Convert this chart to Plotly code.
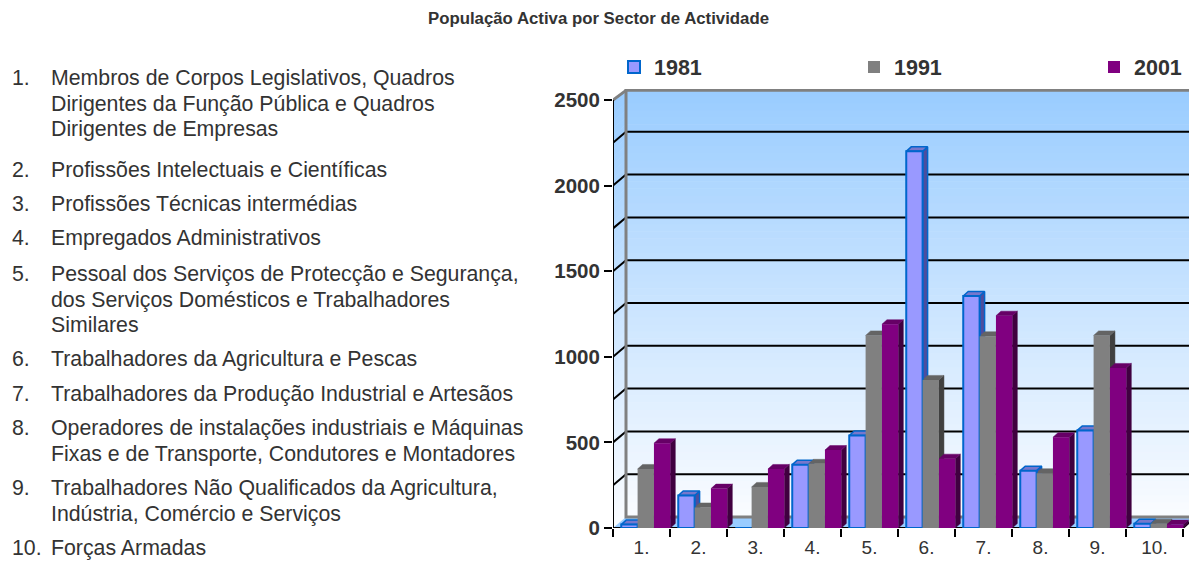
import plotly.graph_objects as go

# ---------------- data ----------------
categories = ["1.", "2.", "3.", "4.", "5.", "6.", "7.", "8.", "9.", "10."]
years = ["1981", "1991", "2001"]
values_1981 = [20, 190, 0, 370, 540, 2200, 1355, 335, 570, 25]
values_1991 = [345, 120, 240, 375, 1125, 865, 1120, 320, 1125, 25]
values_2001 = [495, 230, 345, 455, 1190, 405, 1240, 530, 935, 20]
y_tick_values = [0, 500, 1000, 1500, 2000, 2500]
title_text = "População Activa por Sector de Actividade"
list_numbers = ["1.", "2.", "3.", "4.", "5.", "6.", "7.", "8.", "9.", "10."]
list_texts = [
    ["Membros de Corpos Legislativos, Quadros",
     "Dirigentes da Função Pública e Quadros",
     "Dirigentes de Empresas"],
    ["Profissões Intelectuais e Científicas"],
    ["Profissões Técnicas intermédias"],
    ["Empregados Administrativos"],
    ["Pessoal dos Serviços de Protecção e Segurança,",
     "dos Serviços Domésticos e Trabalhadores",
     "Similares"],
    ["Trabalhadores da Agricultura e Pescas"],
    ["Trabalhadores da Produção Industrial e Artesãos"],
    ["Operadores de instalações industriais e Máquinas",
     "Fixas e de Transporte, Condutores e Montadores"],
    ["Trabalhadores Não Qualificados da Agricultura,",
     "Indústria, Comércio e Serviços"],
    ["Forças Armadas"],
]

# ---------------- layout geometry / style ----------------
W, H = 1197, 566
OFF = 8            # the page body adds an 8px margin; positions below are screen px
FONT = "Liberation Sans, Arial, sans-serif"
TXT = "#333333"


def fx(px):
    return (px - OFF) / W


def fy(py):
    return 1 - (py - OFF) / H


n = len(categories)
PX_X = 57.0                      # px per category
X0_PX = 613.0                    # front-left corner of the plot (screen px)
Y0_PX = 528.0                    # y = 0 on the front (screen px)
PX_Y = (528.0 - 100.0) / 2500.0  # px per value unit
WALL_DX = 13.0 / PX_X            # depth of the back wall (x units)
WALL_DY = 11.0 / PX_Y            # depth of the back wall (y units)
YMAX = 2500
xr = [0.5, n + 0.5 + WALL_DX]
yr = [0, YMAX + WALL_DY]
x_dom = [fx(X0_PX), fx(X0_PX + (xr[1] - xr[0]) * PX_X)]
y_dom = [fy(Y0_PX), fy(Y0_PX - yr[1] * PX_Y)]

BAR_W = 0.287
SHIFT = 0.075
BAR_DX = 5.0 / PX_X
BAR_DY = 4.5 / PX_Y
offsets = [SHIFT - 1.5 * BAR_W + k * BAR_W for k in range(3)]

series = [values_1981, values_1991, values_2001]
front_col = ["#9999FF", "#808080", "#800080"]
top_col = ["#7777CC", "#646464", "#660066"]
side_col = ["#4D4D9E", "#404040", "#400040"]
edge_col = ["#0066CC", None, None]
legend_ids = ["legend", "legend2", "legend3"]
legend_left_px = [614, 854, 1094]

fig = go.Figure()

# ---- walls (gradient bands), floor, grid ----
shapes = []
NB = 60
top_rgb = (153, 204, 255)
bot_rgb = (250, 252, 255)
for b in range(NB):
    a = YMAX * b / NB
    c = YMAX * (b + 1) / NB + (3 if b < NB - 1 else 0)
    t = (b + 0.5) / NB
    rgb = tuple(round(bot_rgb[j] + (top_rgb[j] - bot_rgb[j]) * t) for j in range(3))
    path = (f"M {xr[0]},{a} L {xr[0]+WALL_DX},{a+WALL_DY} L {xr[1]},{a+WALL_DY} "
            f"L {xr[1]},{c+WALL_DY} L {xr[0]+WALL_DX},{c+WALL_DY} L {xr[0]},{c} Z")
    shapes.append(dict(type="path", path=path, xref="x", yref="y", layer="below",
                       fillcolor=f"rgb{rgb}", line=dict(width=0)))
# floor
shapes.append(dict(type="path", xref="x", yref="y", layer="below",
                   path=(f"M {xr[0]},0 L {n+0.5},0 L {xr[1]},{WALL_DY} "
                         f"L {xr[0]+WALL_DX},{WALL_DY} Z"),
                   fillcolor="#99CCFF", line=dict(width=0)))
# grid lines on back and side walls
for v in range(250, YMAX, 250):
    shapes.append(dict(type="line", xref="x", yref="y", layer="below",
                       x0=xr[0] + WALL_DX, x1=xr[1], y0=v + WALL_DY, y1=v + WALL_DY,
                       line=dict(color="black", width=2)))
    shapes.append(dict(type="line", xref="x", yref="y", layer="below",
                       x0=xr[0], x1=xr[0] + WALL_DX, y0=v, y1=v + WALL_DY,
                       line=dict(color="black", width=2)))
# back wall border
shapes.append(dict(type="rect", xref="x", yref="y", layer="below",
                   x0=xr[0] + WALL_DX, x1=xr[1] - 0.015, y0=WALL_DY, y1=yr[1] - 8,
                   line=dict(color="#808080", width=3)))
# side wall top edge
shapes.append(dict(type="line", xref="x", yref="y", layer="below",
                   x0=xr[0], x1=xr[0] + WALL_DX, y0=YMAX, y1=YMAX + WALL_DY - 8,
                   line=dict(color="#808080", width=3)))
# front axis lines
shapes.append(dict(type="line", xref="x", yref="y", layer="below",
                   x0=xr[0], x1=xr[0], y0=0, y1=YMAX, line=dict(color="black", width=2)))
shapes.append(dict(type="line", xref="x", yref="y", layer="below",
                   x0=xr[0], x1=n + 0.5, y0=0, y1=0, line=dict(color="black", width=2)))
shapes.append(dict(type="line", xref="x", yref="y", layer="below",
                   x0=n + 0.5, x1=xr[1] - 0.015, y0=0, y1=WALL_DY,
                   line=dict(color="black", width=2)))

# ---- 3D side and top faces (computed from the data) ----
for k, vals in enumerate(series):
    sx, sy, tx, ty = [], [], [], []
    for i, v in enumerate(vals):
        if v <= 0:
            continue
        x0 = i + 1 + offsets[k]
        x1 = x0 + BAR_W
        sx += [x1, x1, x1 + BAR_DX, x1 + BAR_DX, x1, None]
        sy += [0, v, v + BAR_DY, BAR_DY, 0, None]
        tx += [x0, x1, x1 + BAR_DX, x0 + BAR_DX, x0, None]
        ty += [v, v, v + BAR_DY, v + BAR_DY, v, None]
    ec = edge_col[k]
    fig.add_trace(go.Scatter(x=sx, y=sy, mode="lines", fill="toself",
                             fillcolor=side_col[k],
                             line=dict(color=ec or side_col[k], width=1.5 if ec else 0.5),
                             showlegend=False, hoverinfo="skip"))
    fig.add_trace(go.Scatter(x=tx, y=ty, mode="lines", fill="toself",
                             fillcolor=top_col[k],
                             line=dict(color=ec or top_col[k], width=1.5 if ec else 0.5),
                             showlegend=False, hoverinfo="skip"))

# ---- front faces: real bars on overlaying axes (drawn on top) ----
xpos = list(range(1, n + 1))
for k, vals in enumerate(series):
    ec = edge_col[k]
    fig.add_trace(go.Bar(
        x=xpos, y=vals, name=years[k], width=BAR_W, offset=offsets[k],
        xaxis="x2", yaxis="y2", legend=legend_ids[k],
        marker=dict(color=front_col[k],
                    line=dict(color=ec or front_col[k], width=2 if ec else 0)),
        customdata=categories,
        hovertemplate="%{customdata} " + years[k] + ": %{y}<extra></extra>",
    ))

# ---- left descriptive list ----
annotations = []
item_y = [78, 170, 204, 238, 274, 359, 394, 428, 488, 548]
LINE = 25.7
LIST_SIZE = 21.3
for num, lines, y0 in zip(list_numbers, list_texts, item_y):
    annotations.append(dict(text=num, x=fx(10), y=fy(y0), xref="paper", yref="paper",
                            xanchor="left", yanchor="middle", showarrow=False,
                            font=dict(family=FONT, size=LIST_SIZE, color=TXT)))
    for j, line in enumerate(lines):
        annotations.append(dict(text=line, x=fx(49), y=fy(y0 + j * LINE),
                                xref="paper", yref="paper", xanchor="left",
                                yanchor="middle", showarrow=False,
                                font=dict(family=FONT, size=LIST_SIZE, color=TXT)))

legend_common = dict(orientation="h", xanchor="left", yanchor="middle", y=fy(67),
                     font=dict(family=FONT, size=21.5, color=TXT, weight="bold"),
                     bgcolor="rgba(0,0,0,0)", borderwidth=0)
fig.update_layout(
    width=W, height=H, autosize=False,
    margin=dict(l=0, r=0, t=0, b=0, autoexpand=False),
    paper_bgcolor="white", plot_bgcolor="rgba(0,0,0,0)",
    barmode="overlay",
    title=dict(text="<b>" + title_text + "</b>", x=fx(598.5), xanchor="center",
               y=fy(18), yanchor="middle", yref="container", xref="paper",
               font=dict(family=FONT, size=16.8, color=TXT)),
    shapes=shapes, annotations=annotations,
    showlegend=True,
    legend=dict(x=fx(legend_left_px[0]), **legend_common),
    legend2=dict(x=fx(legend_left_px[1]), **legend_common),
    legend3=dict(x=fx(legend_left_px[2]), **legend_common),
    xaxis=dict(domain=x_dom, range=xr, tickmode="array", tickvals=xpos, ticktext=categories,
               ticks="", showgrid=False, zeroline=False, showline=False,
               tickfont=dict(family=FONT, size=19, color=TXT), ticklabelstandoff=6,
               fixedrange=True),
    xaxis2=dict(overlaying="x", matches="x", range=xr, tickmode="array",
                tickvals=[i + 0.5 for i in range(n + 1)], ticks="outside", ticklen=8,
                tickwidth=2, tickcolor="black", showticklabels=False, showgrid=False,
                zeroline=False, showline=False, side="bottom", anchor="y"),
    yaxis=dict(domain=y_dom, range=yr, tickmode="array", tickvals=y_tick_values,
               ticks="outside", ticklen=8, tickwidth=2, tickcolor="black",
               showgrid=False, zeroline=False, showline=False,
               tickfont=dict(family=FONT, size=20.5, color=TXT, weight="bold"),
               fixedrange=True),
    yaxis2=dict(overlaying="y", matches="y", range=yr, visible=False),
)

fig.write_html("out.html")
